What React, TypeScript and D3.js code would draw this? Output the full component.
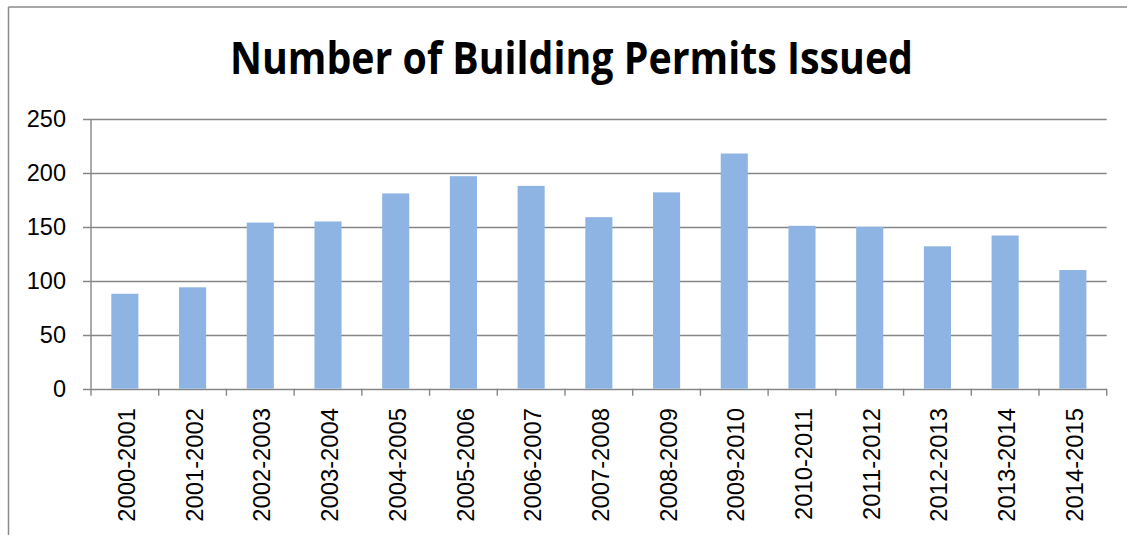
import React from "react";
import * as d3 from "d3";

const categories = [
  "2000-2001", "2001-2002", "2002-2003", "2003-2004", "2004-2005",
  "2005-2006", "2006-2007", "2007-2008", "2008-2009", "2009-2010",
  "2010-2011", "2011-2012", "2012-2013", "2013-2014", "2014-2015",
];
const permits = [88, 94, 154, 155, 181, 197, 188, 159, 182, 218, 151, 150, 132, 142, 110];
const yTicks = [0, 50, 100, 150, 200, 250];
const title = "Number of Building Permits Issued";

export default function App() {
  const W = 1127, H = 535;
  const left = 91, right = 1106.7, top = 119, bottom = 388.7;
  const x = d3.scaleBand<string>().domain(categories).range([left, right]).paddingInner(0.6).paddingOuter(0.3);
  const y = d3.scaleLinear().domain([0, 250]).range([bottom, top]);
  const step = (right - left) / categories.length;
  const bounds = d3.range(categories.length + 1).map((i) => left + i * step);
  const grid = "#868686";
  return (
    <svg width={W} height={H} style={{ position: "absolute", left: 0, top: 0 }}>
      <rect x={0} y={0} width={W} height={H} fill="#fff" />
      <line x1={8.5} x2={8.5} y1={7} y2={H} stroke="#8a8a8a" strokeWidth={1.5} />
      <line x1={8.5} x2={W} y1={7} y2={7} stroke="#8a8a8a" strokeWidth={1.5} />
      <text x={571.5} y={73.5} textAnchor="middle" fontFamily="'Open Sans', sans-serif" fontWeight="bold" fontSize={44} textLength={683} lengthAdjust="spacingAndGlyphs" fill="#000">{title}</text>
      {yTicks.map((t) => (
        <g key={t}>
          <line x1={83} x2={right} y1={Math.round(y(t)) + 0.5} y2={Math.round(y(t)) + 0.5} stroke={grid} strokeWidth={1.4} />
          <text x={66} y={y(t)} dy="0.36em" textAnchor="end" fontFamily="'Liberation Sans', Arial, sans-serif" fontSize={23.5} fill="#000">{t}</text>
        </g>
      ))}
      <line x1={left} x2={left} y1={top} y2={bottom} stroke={grid} strokeWidth={1.4} />
      {categories.map((c, i) => (
        <rect key={c} x={x(c)} y={y(permits[i])} width={x.bandwidth()} height={bottom - y(permits[i])} fill="#8EB4E3" />
      ))}
      {bounds.map((b, i) => (
        <line key={i} x1={b} x2={b} y1={bottom} y2={bottom + 7} stroke={grid} strokeWidth={1.4} />
      ))}
      {categories.map((c) => {
        const cx = (x(c) as number) + x.bandwidth() / 2 + 1.5;
        return (
          <text key={c} transform={`translate(${cx},408) rotate(-90)`} dy="0.36em" textAnchor="end" fontFamily="'Liberation Sans', Arial, sans-serif" fontSize={23.8} fill="#000">{c}</text>
        );
      })}
    </svg>
  );
}
